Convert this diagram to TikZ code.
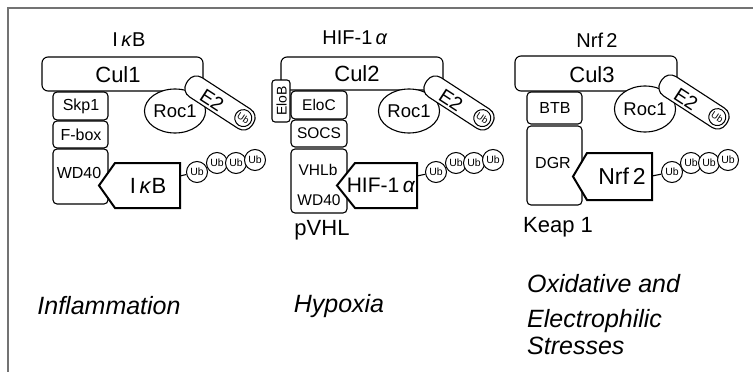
\documentclass[tikz,border=0pt]{standalone}
\usepackage{fontspec}
\setmainfont{Liberation Sans}
\usetikzlibrary{calc,shapes.geometric}
\newcommand{\fz}[1]{\fontsize{#1pt}{#1pt}\selectfont}
\tikzset{
  every node/.style={inner sep=0pt},
  box/.style={draw, fill=white, line width=1.1pt, rounded corners=4pt, inner sep=0pt},
  culbox/.style={box, rounded corners=6pt},
  smallbox/.style={box, minimum width=55pt},
  roc/.style={draw, fill=white, line width=1.1pt, ellipse, inner sep=0pt, font=\fz{18.5}},
  e2bar/.style={draw, fill=white, line width=1.1pt, rounded corners=10pt, minimum width=78pt, minimum height=23pt, rotate=-33},
  e2txt/.style={font=\fz{19.5}, rotate=-33},
  ubc/.style={draw, fill=white, circle, line width=1pt, minimum size=21pt, font=\fz{10.5}},
  ubin/.style={ubc, minimum size=17pt, font=\fz{9.5}, rotate=-33},
  pent/.style={draw, fill=white, line width=2pt, line join=miter},
  conn/.style={draw, line width=1.1pt},
  lbl/.style={font=\fz{16}},
  ttl/.style={font=\fz{20}},
  big/.style={font=\fz{22}},
  stress/.style={font=\fz{25}\itshape},
  frame/.style={draw=black!55, line width=1.5pt},
}
\begin{document}
\begin{tikzpicture}[x=1pt, y=-1pt]
\useasboundingbox (0,0) rectangle (753,372);
\fill[white] (0,0) rectangle (753,372);
\draw[frame] (8,372) -- (8,8) -- (753,8);

% ---------- Panel 1 ----------
\node[ttl] (t1) at (129,40) {I\,\textit{κ}B};
\node[culbox, minimum width=161pt, minimum height=34pt] (cul1) at (122.5,74) {};
\node[font=\fz{22}] (cul1t) at (118,75) {Cul1};
\node[smallbox, minimum height=28pt] (skp1) at (80.5,106) {};
\node[lbl] (skp1t) at (81,106) {Skp1};
\node[smallbox, minimum height=27pt] (fbox) at (80.5,134.5) {};
\node[lbl] (fboxt) at (81,134.5) {F-box};
\node[smallbox, minimum height=55pt] (wd1) at (80.5,176.5) {};
\node[lbl] (wd1t) at (79,173) {WD40};
\node[roc, minimum width=60pt, minimum height=44pt] (roc1) at (175,111) {Roc1};
\node[e2bar] (e2a) at (220,103) {};
\node[e2txt] (e2at) at ($(e2a)+(-8,-3)$) {E2};
\node[ubin] (uba) at ($(e2a)+(23.3,15.1)$) {Ub};
\draw[pent] (99,185.5) -- (115,163) -- (180,163) -- (180,208) -- (115,208) -- cycle;
\node[big] (ikb) at (148,186) {I\,\textit{κ}B};
\coordinate (p1r) at (180,176);
\node[ubc] (u11) at (197,172) {Ub};
\node[ubc] (u12) at (217,163) {Ub};
\node[ubc] (u13) at (236,163) {Ub};
\node[ubc] (u14) at (255,160) {Ub};
\draw[conn] (p1r) -- (u11);
\node[stress] (infl) at (109,306) {Inflammation};

% ---------- Panel 2 ----------
\node[ttl] (t2) at (355,38) {HIF-1\,\textit{α}};
\node[culbox, minimum width=162pt, minimum height=33pt] (cul2) at (362,73.5) {};
\node[font=\fz{22}] (cul2t) at (357,74) {Cul2};
\node[box, rounded corners=3pt, minimum width=18pt, minimum height=42pt] (elob) at (281,101) {};
\node[font=\fz{14}, rotate=90] (elobt) at (281.5,101) {EloB};
\node[box, minimum width=56pt, minimum height=28pt] (eloc) at (319,105) {};
\node[font=\fz{15.5}] (elost) at (319,105) {EloC};
\node[box, minimum width=56pt, minimum height=27pt] (socs) at (319,133.5) {};
\node[font=\fz{15.5}] (socst) at (319,133.5) {SOCS};
\node[box, minimum width=56pt, minimum height=64pt] (vhl) at (319,181) {};
\node[font=\fz{15.5}] (vhlbt) at (318,170) {VHLb};
\node[font=\fz{15.5}] (wd2t) at (319,200) {WD40};
\node[big] (pvhl) at (322,230) {pVHL};
\node[roc, minimum width=54pt, minimum height=44pt] (roc2) at (409,111) {Roc1};
\node[e2bar] (e2b) at (459,103) {};
\node[e2txt] (e2bt) at ($(e2b)+(-8,-3)$) {E2};
\node[ubin] (ubb) at ($(e2b)+(23.3,15.1)$) {Ub};
\draw[pent] (337,185.5) -- (355,163) -- (417,163) -- (417,208) -- (355,208) -- cycle;
\node[font=\fz{21}] (hif) at (381,185) {HIF-1\,\textit{α}};
\coordinate (p2r) at (417,176);
\node[ubc] (u21) at (436,172) {Ub};
\node[ubc] (u22) at (456,163) {Ub};
\node[ubc] (u23) at (474,163) {Ub};
\node[ubc] (u24) at (493,160) {Ub};
\draw[conn] (p2r) -- (u21);
\node[stress] (hyp) at (339,306) {Hypoxia};

% ---------- Panel 3 ----------
\node[ttl] (t3) at (597,40) {Nrf\,2};
\node[culbox, minimum width=162pt, minimum height=35pt] (cul3) at (596,73.5) {};
\node[font=\fz{22}] (cul3t) at (592,75) {Cul3};
\node[smallbox, minimum height=32pt] (btb) at (554.5,108) {};
\node[lbl] (btbt) at (555,108) {BTB};
\node[smallbox, minimum height=79pt] (dgr) at (554.5,165.5) {};
\node[lbl] (dgrt) at (553,163) {DGR};
\node[big] (keap) at (558,227) {Keap 1};
\node[roc, minimum width=56pt, minimum height=46pt] (roc3) at (645,109) {Roc1};
\node[e2bar] (e2c) at (694,102) {};
\node[e2txt] (e2ct) at ($(e2c)+(-8,-3)$) {E2};
\node[ubin] (ubc3) at ($(e2c)+(23.3,15.1)$) {Ub};
\draw[pent] (573,176.5) -- (587,153) -- (652,153) -- (652,200) -- (587,200) -- cycle;
\node[font=\fz{23}] (nrf) at (622,176) {Nrf\,2};
\coordinate (p3r) at (652,176);
\node[ubc] (u31) at (672,172) {Ub};
\node[ubc] (u32) at (691,163) {Ub};
\node[ubc] (u33) at (709,163) {Ub};
\node[ubc] (u34) at (728,160) {Ub};
\draw[conn] (p3r) -- (u31);
\node[stress, anchor=base west] (ox) at (527,292) {Oxidative and};
\node[stress, anchor=base west] (el) at (527,327) {Electrophilic};
\node[stress, anchor=base west] (st) at (527,354) {Stresses};
\end{tikzpicture}
\end{document}
